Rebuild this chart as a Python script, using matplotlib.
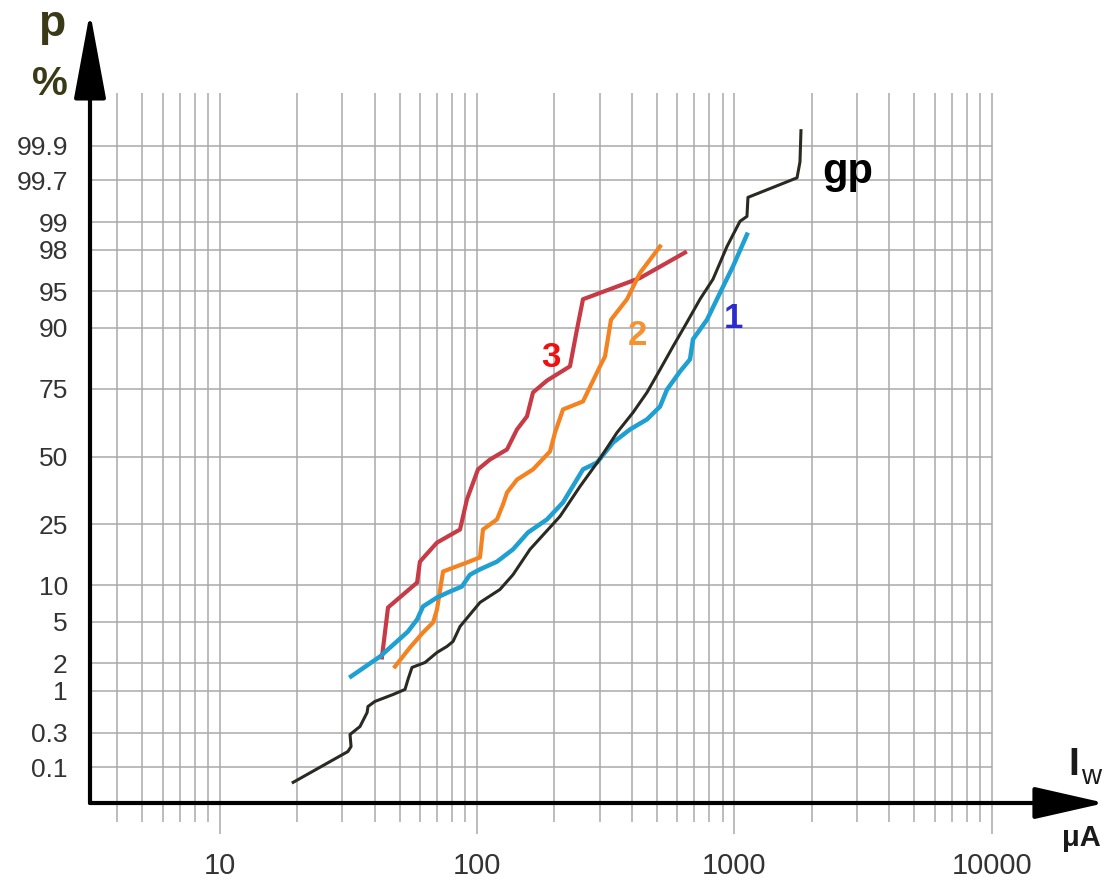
import math
import numpy as np
import matplotlib.pyplot as plt
from matplotlib.ticker import NullLocator

plt.rcParams["font.family"] = ["Liberation Sans", "DejaVu Sans"]

# -----------------------------
# Data (x = leakage current in uA, y = cumulative %)
# -----------------------------
gp_x = [19.3, 31.5, 32.4, 32.1, 35.1, 37.4, 37.7, 40.1, 47.2, 52.5, 53.9, 55.9,
        62.8, 69.9, 76.4, 80.7, 85.9, 93.9, 102.7, 122.8, 138.0, 160.7, 210.2,
        251.4, 295.3, 350.1, 404.0, 457.9, 514.3, 577.8, 655.0, 735.6, 826.4,
        936.7, 1052, 1120, 1130, 1753, 1800, 1816]
gp_p = [0.06, 0.168, 0.197, 0.286, 0.364, 0.546, 0.648, 0.745, 0.90, 1.03, 1.33,
        1.80, 2.03, 2.57, 2.95, 3.30, 4.55, 5.81, 7.34, 9.31, 12.0, 17.8, 27.6,
        38.3, 48.0, 59.4, 66.9, 73.8, 80.6, 86.3, 90.9, 94.1, 96.1, 98.16, 99.03,
        99.15, 99.50, 99.72, 99.83, 99.94]

s1_x = [32.4, 42.0, 53.9, 58.5, 61.7, 69.9, 78.6, 87.4, 93.9, 102.7, 119.6, 138.0,
        157.8, 187.2, 215.9, 258.2, 292.7, 337.8, 393.2, 457.9, 514.3, 547.5,
        615.2, 672.8, 691.1, 783.2, 879.8, 988.3, 1120]
s1_p = [1.44, 2.34, 4.09, 5.26, 6.80, 8.05, 8.98, 9.82, 12.0, 13.1, 14.8, 17.8,
        22.5, 26.6, 32.4, 44.9, 47.6, 55.5, 60.6, 64.4, 69.0, 74.7, 80.1, 83.3,
        87.8, 91.3, 94.8, 97.06, 98.63]

s2_x = [48.0, 54.9, 61.7, 67.5, 69.9, 73.8, 91.4, 102.7, 105.5, 119.6, 126.2,
        130.8, 143.0, 165.1, 192.2, 201.0, 215.9, 258.2, 300.6, 314.4, 331.7,
        382.8, 430.1, 514.3]
s2_p = [1.84, 2.88, 4.01, 4.95, 6.41, 12.65, 14.6, 15.8, 23.4, 26.6, 31.7, 36.0,
        40.9, 44.9, 52.0, 59.4, 68.0, 70.8, 81.5, 84.0, 91.3, 94.1, 96.6, 98.16]

s3_x = [42.7, 45.1, 58.5, 60.0, 69.9, 85.9, 91.4, 100.9, 112.3, 130.8, 143.0,
        156.4, 165.1, 187.2, 229.8, 244.7, 258.2, 430.1, 643.3]
s3_p = [2.29, 6.67, 10.5, 14.8, 19.6, 23.4, 33.5, 44.9, 48.8, 52.8, 60.6, 65.5,
        73.8, 77.5, 81.5, 89.7, 94.1, 96.2, 97.87]

p_ticks = [0.1, 0.3, 1, 2, 5, 10, 25, 50, 75, 90, 95, 98, 99, 99.7, 99.9]
p_labels = ["0.1", "0.3", "1", "2", "5", "10", "25", "50", "75", "90", "95",
            "98", "99", "99.7", "99.9"]
x_ticks = [10, 100, 1000, 10000]
x_labels = ["10", "100", "1000", "10000"]

# -----------------------------
# Normal probability scale for the y axis
# -----------------------------
erf = np.vectorize(math.erf)
z_grid = np.linspace(-6, 6, 12001)
p_grid = 50 * (1 + erf(z_grid / math.sqrt(2)))


def to_z(p):
    return np.interp(p, p_grid, z_grid)


def from_z(z):
    return 50 * (1 + erf(np.asarray(z, dtype=float) / math.sqrt(2)))


# -----------------------------
# Figure layout (pixel based)
# -----------------------------
W, H = 1107, 880
x0, y0, x1, y1 = 90, 803, 1105, 12           # axes box in pixels
px_dec, px_100 = 257.3, 477                   # pixels per decade, pixel of x=100
z_mid, px_z = 456.5, 100.6                    # pixel of 50 %, pixels per sigma

fig = plt.figure(figsize=(W / 100, H / 100), dpi=100)
ax = fig.add_axes([x0 / W, (H - y0) / H, (x1 - x0) / W, (y0 - y1) / H])

ax.set_xscale("log")
ax.set_yscale("function", functions=(to_z, from_z))
x_left = 10 ** (2 + (x0 - px_100) / px_dec)
x_right = 10 ** (2 + (x1 - px_100) / px_dec)
ax.set_xlim(x_left, x_right)
ax.set_ylim(from_z((z_mid - y0) / px_z), from_z((z_mid - y1) / px_z))

for s in ax.spines.values():
    s.set_visible(False)

ax.set_xticks(x_ticks, x_labels)
ax.set_yticks(p_ticks, p_labels)
ax.xaxis.set_minor_locator(NullLocator())
ax.yaxis.set_minor_locator(NullLocator())
ax.tick_params(axis="x", length=0, pad=35, labelsize=21, labelcolor="#333333")
ax.tick_params(axis="y", length=0, pad=16, labelsize=19, labelcolor="#333333")

# grid
gc = "#a9a9a9"
top = (y0 - 93) / (y0 - y1)
minor_x = [m * 10 ** k for k in range(0, 4) for m in range(2, 10) if m * 10 ** k >= 4]
ax.vlines(minor_x, -19 / (y0 - y1), top, transform=ax.get_xaxis_transform(),
          colors=gc, lw=1.1, clip_on=False, zorder=1)
ax.vlines(x_ticks, -31 / (y0 - y1), top, transform=ax.get_xaxis_transform(),
          colors=gc, lw=1.1, clip_on=False, zorder=1)
ax.hlines(p_ticks, x_left, 10000, colors=gc, lw=1.1, zorder=1)

# curves
ax.plot(s3_x, s3_p, color="#c73b46", lw=3.0, zorder=3)
ax.plot(s2_x, s2_p, color="#f58220", lw=3.0, zorder=3)
ax.plot(s1_x, s1_p, color="#1fa0d2", lw=3.2, zorder=3)
ax.plot(gp_x, gp_p, color="#2a2a22", lw=2.2, zorder=4)

# curve labels
ax.text(194, 81.3, "3", color="#f01010", fontsize=25, weight="bold",
        ha="center", va="baseline")
ax.text(419, 86.6, "2", color="#f7922f", fontsize=25, weight="bold",
        ha="center", va="baseline")
ax.text(988, 89.9, "1", color="#2c2ccc", fontsize=25, weight="bold",
        ha="center", va="baseline")
ax.text(2192, 99.67, "gp", color="black", fontsize=30, weight="bold",
        ha="left", va="baseline")

# axes with arrows
ax.annotate("", xy=(1, 0), xytext=(0, 0), xycoords="axes fraction",
            arrowprops=dict(arrowstyle="-|>,head_length=2.2,head_width=0.5",
                            lw=3, color="black", mutation_scale=20,
                            shrinkA=0, shrinkB=0), zorder=6)
ax.annotate("", xy=(0, 1), xytext=(0, 0), xycoords="axes fraction",
            arrowprops=dict(arrowstyle="-|>,head_length=2.7,head_width=0.5",
                            lw=3, color="black", mutation_scale=20,
                            shrinkA=0, shrinkB=0), zorder=6)

# axis titles
olive = "#3b3a16"
fig.text(51.5 / W, 1 - 36 / H, "p", ha="center", va="baseline",
         fontsize=32, weight="bold", color=olive)
fig.text(49.5 / W, 1 - 95 / H, "%", ha="center", va="baseline",
         fontsize=29, weight="bold", color=olive)
fig.text(1068 / W, 1 - 775 / H, "I", ha="left", va="baseline",
         fontsize=28, weight="bold", color="#1a1a1a")
fig.text(1081 / W, 1 - 784 / H, "w", ha="left", va="baseline",
         fontsize=20, color="#1a1a1a")
fig.text(1081 / W, 1 - 846 / H, "μA", ha="center", va="baseline",
         fontsize=21, weight="bold", color="#1a1a1a")

fig.savefig("out.png", dpi=100)
